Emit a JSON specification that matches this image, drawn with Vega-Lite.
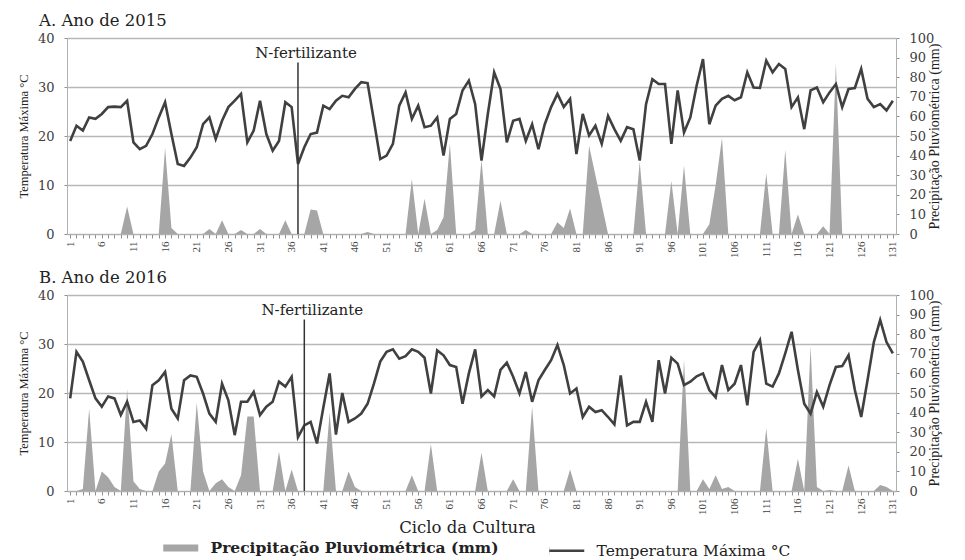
{
  "$schema": "https://vega.github.io/schema/vega-lite/v6.json",
  "padding": {"left": 17, "top": 12, "right": 4, "bottom": 2},
  "config": {
    "font": "DejaVu Serif",
    "view": {"stroke": null},
    "axis": {"labelFont": "DejaVu Serif", "titleFont": "Liberation Serif", "labelColor": "#404040", "titleColor": "#222222", "titleFontWeight": "normal", "domainColor": "#b0b0b0", "tickColor": "#909090", "gridColor": "#b8b8b8", "gridWidth": 1.4},
    "legend": {"labelFont": "DejaVu Serif", "layout": {"bottom": {"anchor": "middle"}}}
  },
  "datasets": {
    "a": [
      {"d":1,"t":19.0,"p":0},{"d":2,"t":22.1,"p":0},{"d":3,"t":21.1,"p":0},{"d":4,"t":23.8,"p":0},{"d":5,"t":23.5,"p":0},
      {"d":6,"t":24.5,"p":0},{"d":7,"t":25.9,"p":0},{"d":8,"t":26.0,"p":0},{"d":9,"t":25.9,"p":0},{"d":10,"t":27.2,"p":14},
      {"d":11,"t":18.7,"p":0},{"d":12,"t":17.3,"p":0},{"d":13,"t":18.0,"p":0},{"d":14,"t":20.4,"p":0},{"d":15,"t":23.8,"p":0},
      {"d":16,"t":26.9,"p":44},{"d":17,"t":20.4,"p":3},{"d":18,"t":14.3,"p":0},{"d":19,"t":13.9,"p":0},{"d":20,"t":15.6,"p":0},
      {"d":21,"t":17.7,"p":0},{"d":22,"t":22.4,"p":0},{"d":23,"t":23.8,"p":2.5},{"d":24,"t":19.4,"p":0},{"d":25,"t":23.1,"p":7},
      {"d":26,"t":25.9,"p":0},{"d":27,"t":27.2,"p":0},{"d":28,"t":28.6,"p":2},{"d":29,"t":18.7,"p":0},{"d":30,"t":21.1,"p":0},
      {"d":31,"t":27.2,"p":2.5},{"d":32,"t":20.4,"p":0},{"d":33,"t":17.0,"p":0},{"d":34,"t":19.0,"p":0},{"d":35,"t":26.9,"p":7},
      {"d":36,"t":25.9,"p":0},{"d":37,"t":14.3,"p":0},{"d":38,"t":17.7,"p":0},{"d":39,"t":20.4,"p":12.5},{"d":40,"t":20.7,"p":12},
      {"d":41,"t":26.2,"p":0},{"d":42,"t":25.5,"p":0},{"d":43,"t":27.2,"p":0},{"d":44,"t":28.2,"p":0},{"d":45,"t":27.9,"p":0},
      {"d":46,"t":29.6,"p":0},{"d":47,"t":31.0,"p":0},{"d":48,"t":30.8,"p":1},{"d":49,"t":23.1,"p":0},{"d":50,"t":15.3,"p":0},
      {"d":51,"t":16.0,"p":0},{"d":52,"t":18.4,"p":0},{"d":53,"t":26.2,"p":0},{"d":54,"t":28.9,"p":0},{"d":55,"t":23.5,"p":28},
      {"d":56,"t":26.2,"p":0},{"d":57,"t":21.8,"p":18},{"d":58,"t":22.1,"p":0},{"d":59,"t":23.8,"p":2},{"d":60,"t":16.0,"p":8.5},
      {"d":61,"t":23.5,"p":46},{"d":62,"t":24.5,"p":0},{"d":63,"t":29.3,"p":0},{"d":64,"t":31.3,"p":0},{"d":65,"t":26.5,"p":2},
      {"d":66,"t":15.0,"p":38},{"d":67,"t":24.5,"p":0},{"d":68,"t":33.0,"p":0},{"d":69,"t":29.6,"p":17},{"d":70,"t":18.7,"p":0},
      {"d":71,"t":23.1,"p":0},{"d":72,"t":23.5,"p":0},{"d":73,"t":19.0,"p":2},{"d":74,"t":22.4,"p":0},{"d":75,"t":17.3,"p":0},
      {"d":76,"t":22.4,"p":0},{"d":77,"t":25.9,"p":0},{"d":78,"t":28.6,"p":6},{"d":79,"t":25.9,"p":3},{"d":80,"t":27.6,"p":13},
      {"d":81,"t":16.3,"p":0},{"d":82,"t":24.5,"p":0},{"d":83,"t":20.1,"p":45},{"d":84,"t":22.1,"p":30},{"d":85,"t":18.4,"p":15},
      {"d":86,"t":24.1,"p":0},{"d":87,"t":21.4,"p":0},{"d":88,"t":19.0,"p":0},{"d":89,"t":21.8,"p":0},{"d":90,"t":21.4,"p":0},
      {"d":91,"t":15.0,"p":37},{"d":92,"t":26.5,"p":0},{"d":93,"t":31.6,"p":0},{"d":94,"t":30.6,"p":0},{"d":95,"t":30.6,"p":0},
      {"d":96,"t":18.4,"p":27},{"d":97,"t":29.3,"p":0},{"d":98,"t":20.7,"p":35},{"d":99,"t":23.8,"p":0},{"d":100,"t":30.3,"p":0},
      {"d":101,"t":35.7,"p":0},{"d":102,"t":22.4,"p":5},{"d":103,"t":26.2,"p":25},{"d":104,"t":27.6,"p":49},{"d":105,"t":28.2,"p":0},
      {"d":106,"t":27.3,"p":0},{"d":107,"t":27.9,"p":0},{"d":108,"t":33.0,"p":0},{"d":109,"t":29.9,"p":0},{"d":110,"t":29.8,"p":0},
      {"d":111,"t":35.4,"p":31},{"d":112,"t":33.0,"p":0},{"d":113,"t":34.7,"p":0},{"d":114,"t":33.7,"p":43},{"d":115,"t":25.9,"p":0},
      {"d":116,"t":27.9,"p":10},{"d":117,"t":21.4,"p":0},{"d":118,"t":29.3,"p":0},{"d":119,"t":29.9,"p":0},{"d":120,"t":26.9,"p":4},
      {"d":121,"t":28.9,"p":0},{"d":122,"t":30.6,"p":87},{"d":123,"t":25.9,"p":0},{"d":124,"t":29.6,"p":0},{"d":125,"t":29.8,"p":0},
      {"d":126,"t":33.7,"p":0},{"d":127,"t":27.6,"p":0},{"d":128,"t":25.9,"p":0},{"d":129,"t":26.5,"p":0},{"d":130,"t":25.2,"p":0},
      {"d":131,"t":27.2,"p":0}
    ],
    "b": [
      {"d":1,"t":18.9,"p":0},{"d":2,"t":28.4,"p":0},{"d":3,"t":26.4,"p":1},{"d":4,"t":22.6,"p":42},{"d":5,"t":18.9,"p":0},
      {"d":6,"t":17.2,"p":10},{"d":7,"t":19.3,"p":7},{"d":8,"t":18.9,"p":2},{"d":9,"t":15.5,"p":0},{"d":10,"t":18.2,"p":52},
      {"d":11,"t":14.1,"p":5},{"d":12,"t":14.4,"p":1},{"d":13,"t":12.7,"p":0},{"d":14,"t":21.6,"p":0},{"d":15,"t":22.6,"p":10},
      {"d":16,"t":24.3,"p":14},{"d":17,"t":16.8,"p":29},{"d":18,"t":14.8,"p":0},{"d":19,"t":22.6,"p":0},{"d":20,"t":23.6,"p":0},
      {"d":21,"t":23.3,"p":45},{"d":22,"t":19.9,"p":10},{"d":23,"t":15.8,"p":0},{"d":24,"t":14.1,"p":4},{"d":25,"t":21.9,"p":6},
      {"d":26,"t":18.5,"p":2},{"d":27,"t":11.4,"p":0},{"d":28,"t":18.2,"p":8},{"d":29,"t":18.2,"p":38},{"d":30,"t":20.2,"p":38},
      {"d":31,"t":15.5,"p":0},{"d":32,"t":17.2,"p":0},{"d":33,"t":18.2,"p":0},{"d":34,"t":22.3,"p":20},{"d":35,"t":21.3,"p":0},
      {"d":36,"t":23.3,"p":11},{"d":37,"t":11.0,"p":0},{"d":38,"t":13.4,"p":0},{"d":39,"t":14.1,"p":0},{"d":40,"t":9.7,"p":0},
      {"d":41,"t":17.0,"p":0},{"d":42,"t":24.0,"p":40},{"d":43,"t":11.5,"p":0},{"d":44,"t":20.0,"p":0},{"d":45,"t":14.1,"p":10},
      {"d":46,"t":14.8,"p":2},{"d":47,"t":15.8,"p":0},{"d":48,"t":17.8,"p":0},{"d":49,"t":21.9,"p":0},{"d":50,"t":26.4,"p":0},
      {"d":51,"t":28.4,"p":0},{"d":52,"t":28.9,"p":0},{"d":53,"t":27.0,"p":0},{"d":54,"t":27.5,"p":0},{"d":55,"t":28.9,"p":8},
      {"d":56,"t":28.4,"p":0},{"d":57,"t":27.2,"p":0},{"d":58,"t":19.9,"p":24},{"d":59,"t":28.7,"p":0},{"d":60,"t":27.7,"p":0},
      {"d":61,"t":25.7,"p":0},{"d":62,"t":25.3,"p":0},{"d":63,"t":17.8,"p":0},{"d":64,"t":24.0,"p":0},{"d":65,"t":28.9,"p":0},
      {"d":66,"t":19.3,"p":19.5},{"d":67,"t":20.6,"p":0},{"d":68,"t":19.3,"p":0},{"d":69,"t":24.7,"p":0},{"d":70,"t":26.2,"p":0},
      {"d":71,"t":23.3,"p":6},{"d":72,"t":19.9,"p":0},{"d":73,"t":24.3,"p":0},{"d":74,"t":18.2,"p":43},{"d":75,"t":22.6,"p":0},
      {"d":76,"t":24.7,"p":0},{"d":77,"t":26.7,"p":0},{"d":78,"t":29.8,"p":0},{"d":79,"t":25.7,"p":0},{"d":80,"t":19.9,"p":11},
      {"d":81,"t":20.9,"p":0},{"d":82,"t":15.1,"p":0},{"d":83,"t":17.2,"p":0},{"d":84,"t":16.1,"p":0},{"d":85,"t":16.5,"p":0},
      {"d":86,"t":15.1,"p":0},{"d":87,"t":13.6,"p":0},{"d":88,"t":23.6,"p":0},{"d":89,"t":13.4,"p":0},{"d":90,"t":14.1,"p":0},
      {"d":91,"t":14.1,"p":0},{"d":92,"t":18.2,"p":0},{"d":93,"t":14.1,"p":0},{"d":94,"t":26.7,"p":0},{"d":95,"t":19.9,"p":0},
      {"d":96,"t":27.2,"p":0},{"d":97,"t":26.0,"p":0},{"d":98,"t":21.6,"p":67},{"d":99,"t":22.3,"p":0},{"d":100,"t":23.4,"p":0},
      {"d":101,"t":24.0,"p":6},{"d":102,"t":20.6,"p":1},{"d":103,"t":19.1,"p":8},{"d":104,"t":25.7,"p":1},{"d":105,"t":20.6,"p":2},
      {"d":106,"t":21.9,"p":0},{"d":107,"t":25.7,"p":0},{"d":108,"t":17.5,"p":0},{"d":109,"t":28.4,"p":0},{"d":110,"t":30.8,"p":0},
      {"d":111,"t":21.9,"p":32},{"d":112,"t":21.3,"p":0},{"d":113,"t":24.0,"p":0},{"d":114,"t":28.1,"p":0},{"d":115,"t":32.5,"p":0},
      {"d":116,"t":24.7,"p":16.5},{"d":117,"t":17.8,"p":0},{"d":118,"t":15.8,"p":74},{"d":119,"t":20.2,"p":2},{"d":120,"t":17.2,"p":0},
      {"d":121,"t":21.6,"p":0.5},{"d":122,"t":25.3,"p":0},{"d":123,"t":25.5,"p":0},{"d":124,"t":27.7,"p":13},{"d":125,"t":20.6,"p":0},
      {"d":126,"t":15.1,"p":0},{"d":127,"t":22.6,"p":0},{"d":128,"t":30.4,"p":0},{"d":129,"t":34.9,"p":3},{"d":130,"t":30.4,"p":2},
      {"d":131,"t":28.1,"p":0}
    ],
    "nA": [{"d": 37, "lab": "N-fertilizante"}],
    "nB": [{"d": 38, "lab": "N-fertilizante"}]
  },
  "vconcat": [
    {
      "title": {"text": "A. Ano de 2015", "anchor": "start", "frame": "group", "dx": -28, "offset": 3, "fontSize": 16.5, "font": "DejaVu Serif", "fontWeight": "normal", "color": "#222222"},
      "width": 829,
      "height": 196,
      "data": {"name": "a"},
      "encoding": {
        "x": {"field": "d", "type": "quantitative", "scale": {"domain": [0.5, 131.5], "nice": false, "zero": false},
          "axis": {"tickCount": 131, "labelExpr": "(datum.value - 1) % 5 == 0 ? datum.label : ''", "labelAngle": 270, "labelOverlap": false, "labelFlush": false, "labelBound": false, "grid": false, "tickSize": 4, "labelPadding": 3, "labelFont": "Liberation Serif", "labelFontSize": 11, "title": null}}
      },
      "layer": [
        {
          "mark": {"type": "area", "color": "#a6a6a6", "opacity": 1},
          "encoding": {
            "y": {"field": "p", "type": "quantitative", "scale": {"domain": [0, 100], "nice": false},
              "axis": {"orient": "right", "values": [0,10,20,30,40,50,60,70,80,90,100], "title": "Precipitação Pluviométrica (mm)", "titleAngle": 270, "titleFontSize": 14, "titlePadding": 8, "labelFontSize": 13, "labelPadding": 10, "tickSize": 3, "grid": false}}
          }
        },
        {
          "layer": [
            {
              "mark": {"type": "line", "color": "#404040", "strokeWidth": 2.6},
              "encoding": {
                "y": {"field": "t", "type": "quantitative", "scale": {"domain": [0, 40], "nice": false},
                  "axis": {"orient": "left", "values": [0,5,10,15,20,25,30,35,40], "title": "Temperatura Máxima °C", "titleFontSize": 12.5, "titlePadding": 7, "labelFontSize": 13, "labelPadding": 10, "tickSize": 3, "grid": true}}
              }
            },
            {
              "data": {"name": "nA"},
              "mark": {"type": "rule", "color": "#333333", "strokeWidth": 1.5},
              "encoding": {"y": {"datum": 35}, "y2": {"datum": 0}}
            },
            {
              "data": {"name": "nA"},
              "mark": {"type": "text", "fontSize": 15, "font": "DejaVu Serif", "color": "#222222", "dx": 8},
              "encoding": {"y": {"datum": 37}, "text": {"field": "lab"}}
            }
          ]
        }
      ],
      "resolve": {"scale": {"y": "independent"}}
    },
    {
      "title": {"text": "B. Ano de 2016", "anchor": "start", "frame": "group", "dx": -28, "offset": 3, "fontSize": 16.5, "font": "DejaVu Serif", "fontWeight": "normal", "color": "#222222"},
      "width": 829,
      "height": 196,
      "data": {"name": "b"},
      "encoding": {
        "x": {"field": "d", "type": "quantitative", "scale": {"domain": [0.5, 131.5], "nice": false, "zero": false},
          "axis": {"tickCount": 131, "labelExpr": "(datum.value - 1) % 5 == 0 ? datum.label : ''", "labelAngle": 270, "labelOverlap": false, "labelFlush": false, "labelBound": false, "grid": false, "tickSize": 4, "labelPadding": 3, "labelFont": "Liberation Serif", "labelFontSize": 11, "title": "Ciclo da Cultura", "titleFont": "DejaVu Serif", "titleFontSize": 16.5, "titlePadding": 5, "titleX": 400}}
      },
      "layer": [
        {
          "mark": {"type": "area", "opacity": 1},
          "encoding": {
            "y": {"field": "p", "type": "quantitative", "scale": {"domain": [0, 100], "nice": false},
              "axis": {"orient": "right", "values": [0,10,20,30,40,50,60,70,80,90,100], "title": "Precipitação Pluviométrica (mm)", "titleAngle": 270, "titleFontSize": 14, "titlePadding": 8, "labelFontSize": 13, "labelPadding": 10, "tickSize": 3, "grid": false}},
            "color": {"datum": "Precipitação Pluviométrica (mm)", "type": "nominal",
              "scale": {"domain": ["Precipitação Pluviométrica (mm)", "Temperatura Máxima °C"], "range": ["#a6a6a6", "#404040"]},
              "legend": {"orient": "bottom", "direction": "horizontal", "title": null, "labelFontSize": 15.5, "labelLimit": 500, "labelColor": "#222222", "symbolType": "stroke", "symbolSize": 1225, "symbolStrokeWidth": 5, "columnPadding": 45, "labelOffset": 22, "offset": 4,
                "encode": {
                  "symbols": {"update": {
                    "shape": {"signal": "datum.index == 1 ? 'M-1,0H1M-1,-0.13H-0.99M-1,0.13H-0.99' : 'stroke'"},
                    "stroke": {"signal": "datum.index == 1 ? '#404040' : '#a6a6a6'"},
                    "strokeWidth": {"signal": "datum.index == 1 ? 2.5 : 7"}
                  }},
                  "labels": {"update": {"fontWeight": {"signal": "datum.index == 0 ? 'bold' : 'normal'"}}}
                }}}
          }
        },
        {
          "layer": [
            {
              "mark": {"type": "line", "strokeWidth": 2.6},
              "encoding": {
                "y": {"field": "t", "type": "quantitative", "scale": {"domain": [0, 40], "nice": false},
                  "axis": {"orient": "left", "values": [0,5,10,15,20,25,30,35,40], "title": "Temperatura Máxima °C", "titleFontSize": 12.5, "titlePadding": 7, "labelFontSize": 13, "labelPadding": 10, "tickSize": 3, "grid": true}},
                "color": {"datum": "Temperatura Máxima °C", "type": "nominal",
                  "legend": {"orient": "bottom", "direction": "horizontal", "title": null, "labelFontSize": 15.5, "labelLimit": 500, "labelColor": "#222222", "symbolType": "stroke", "symbolSize": 1225, "symbolStrokeWidth": 5, "columnPadding": 45, "labelOffset": 22, "offset": 4,
                    "encode": {
                      "symbols": {"update": {
                        "shape": {"signal": "datum.index == 1 ? 'M-1,0H1M-1,-0.13H-0.99M-1,0.13H-0.99' : 'stroke'"},
                        "stroke": {"signal": "datum.index == 1 ? '#404040' : '#a6a6a6'"},
                        "strokeWidth": {"signal": "datum.index == 1 ? 2.5 : 7"}
                      }},
                      "labels": {"update": {"fontWeight": {"signal": "datum.index == 0 ? 'bold' : 'normal'"}}}
                    }}}
              }
            },
            {
              "data": {"name": "nB"},
              "mark": {"type": "rule", "color": "#333333", "strokeWidth": 1.5},
              "encoding": {"y": {"datum": 35}, "y2": {"datum": 0}}
            },
            {
              "data": {"name": "nB"},
              "mark": {"type": "text", "fontSize": 15, "font": "DejaVu Serif", "color": "#222222", "dx": 8},
              "encoding": {"y": {"datum": 37}, "text": {"field": "lab"}}
            }
          ]
        }
      ],
      "resolve": {"scale": {"y": "independent"}}
    }
  ],
  "spacing": 11
}
